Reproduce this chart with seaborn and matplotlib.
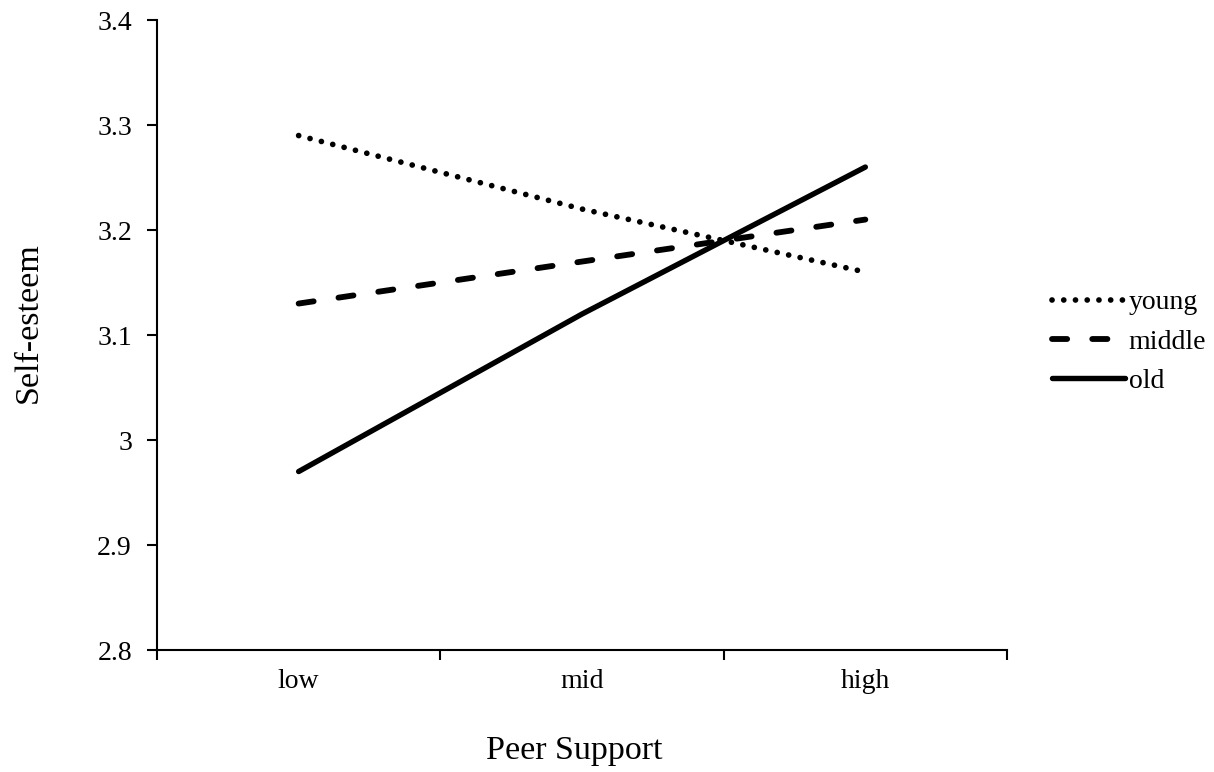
import matplotlib
matplotlib.use("Agg")
import matplotlib.pyplot as plt
import seaborn as sns
import pandas as pd

categories = ["low", "mid", "high"]
young = [3.29, 3.22, 3.16]
middle = [3.13, 3.17, 3.21]
old = [2.97, 3.12, 3.26]
groups = ["young", "middle", "old"]
yticks = [2.8, 2.9, 3.0, 3.1, 3.2, 3.3, 3.4]
ytick_labels = ["2.8", "2.9", "3", "3.1", "3.2", "3.3", "3.4"]

sns.set_theme(style="white")
plt.rcParams['font.family'] = ['Liberation Serif', 'DejaVu Serif']
plt.rcParams['text.color'] = 'black'
plt.rcParams['axes.labelcolor'] = 'black'
plt.rcParams['xtick.color'] = 'black'
plt.rcParams['ytick.color'] = 'black'

rows = []
for g, vals in zip(groups, [young, middle, old]):
    for i, (c, v) in enumerate(zip(categories, vals)):
        rows.append({"group": g, "pos": i, "cat": c, "value": v})
df = pd.DataFrame(rows)

fig = plt.figure(figsize=(12.14, 7.72), dpi=100)
ax = fig.add_axes([0.1293, 0.158, 0.7002, 0.816])

styles = {
    "young": dict(linestyle=(0, (0.01, 2.05)), linewidth=4.1, dash_capstyle="round", solid_capstyle="round"),
    "middle": dict(linestyle=(0, (2.6, 4.3)), linewidth=4.2, dash_capstyle="round"),
    "old": dict(linestyle="-", linewidth=3.9, solid_capstyle="round"),
}
for g in groups:
    sub = df[df["group"] == g]
    sns.lineplot(data=sub, x="pos", y="value", ax=ax, color="black", label=g,
                 **styles[g])

ax.set_xlim(-0.5, 2.5)
ax.set_ylim(2.8, 3.4)
ax.set_xticks([-0.5, 0.5, 1.5, 2.5])
ax.set_xticklabels([])
ax.set_xticks([0, 1, 2], minor=True)
ax.set_xticklabels(categories, minor=True, fontsize=20)
ax.tick_params(axis="x", which="major", direction="out", length=7, width=1.5, color="black", bottom=True)
ax.tick_params(axis="x", which="minor", length=0, pad=14)
ax.set_yticks(yticks)
ax.set_yticklabels(ytick_labels, fontsize=20)
ax.tick_params(axis="y", direction="out", length=7, width=1.5, color="black", left=True, pad=11)

for s in ["top", "right"]:
    ax.spines[s].set_visible(False)
for s in ["left", "bottom"]:
    ax.spines[s].set_color("black")
    ax.spines[s].set_linewidth(1.5)

ax.set_xlabel("Peer Support", fontsize=24.5)
ax.set_ylabel("Self-esteem", fontsize=24.5)
ax.xaxis.set_label_coords(0.4906, -0.136)
ax.yaxis.set_label_coords(-0.133, 0.519)

leg = ax.legend(loc="center left", bbox_to_anchor=(1.024, 0.489), frameon=False,
                fontsize=20, handlelength=2.6, handletextpad=0.15, labelspacing=0.5)

fig.savefig("out.png", dpi=100, facecolor="white")
